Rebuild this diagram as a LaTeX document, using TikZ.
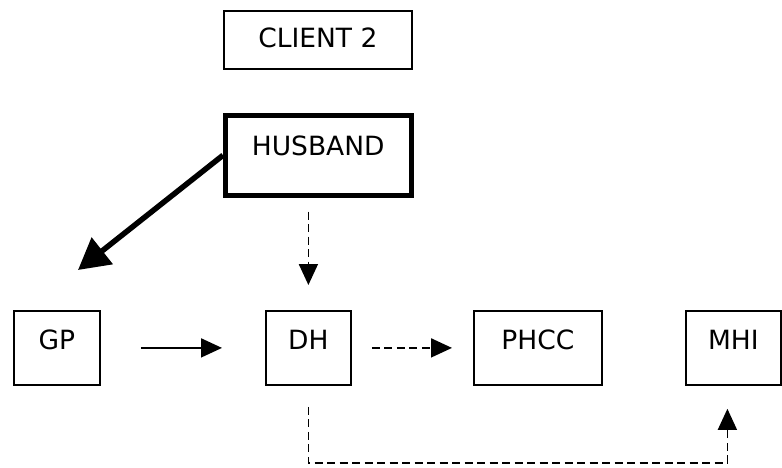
\documentclass[tikz,border=0pt]{standalone}
\usepackage{fontspec}
\setmainfont{DejaVu Sans}
\usetikzlibrary{arrows.meta,positioning}

\tikzset{
  box/.style={draw, line width=1.8pt, inner sep=0pt, anchor=north west,
    font=\fontsize{26.5}{30}\selectfont},
  rowbox/.style={box, text height=39pt, text depth=35pt},
  flow/.style={-{Triangle[length=21pt,width=19pt]}, line width=1.8pt},
  dashflow/.style={flow, dash pattern=on 8pt off 4.5pt},
}

\begin{document}
\begin{tikzpicture}[x=1pt,y=-1pt]
\useasboundingbox (0,0) rectangle (782,467);
% top boxes
\node[box, minimum width=188pt, text height=37pt, text depth=21pt] (client) at (223,10) {CLIENT 2};
\node[box, line width=4.5pt, minimum width=186pt, text height=40pt, text depth=40pt] (husband) at (223,113) {HUSBAND};
% bottom row
\node[rowbox, minimum width=86pt] (gp) at (13,310) {GP};
\node[rowbox, minimum width=85pt] (dh) at (265,310) {DH};
\node[rowbox, minimum width=128pt] (phcc) at (473,310) {PHCC};
\node[rowbox, minimum width=95pt] (mhi) at (685,310) {MHI};
\coordinate (gpin) at (78,270);
% connectors
\draw[line width=5.5pt, -{Triangle[length=31pt,width=33pt]}] (husband.west) -- (gpin);
\draw[dashflow, shorten <=14pt, shorten >=25pt] (dh.north |- husband.south) -- (dh.north);
\draw[flow, shorten <=40pt, shorten >=43pt] (gp.east) -- (dh.west);
\draw[dashflow, shorten <=20pt, shorten >=21pt] (dh.east) -- (phcc.west);
\draw[dashflow, line width=1.5pt, shorten <=21pt, shorten >=23pt]
  (dh.south) -- (dh.south |- 0,463) -- ([xshift=-6pt]mhi.south |- 0,463) -- ([xshift=-6pt]mhi.south);
\end{tikzpicture}
\end{document}
